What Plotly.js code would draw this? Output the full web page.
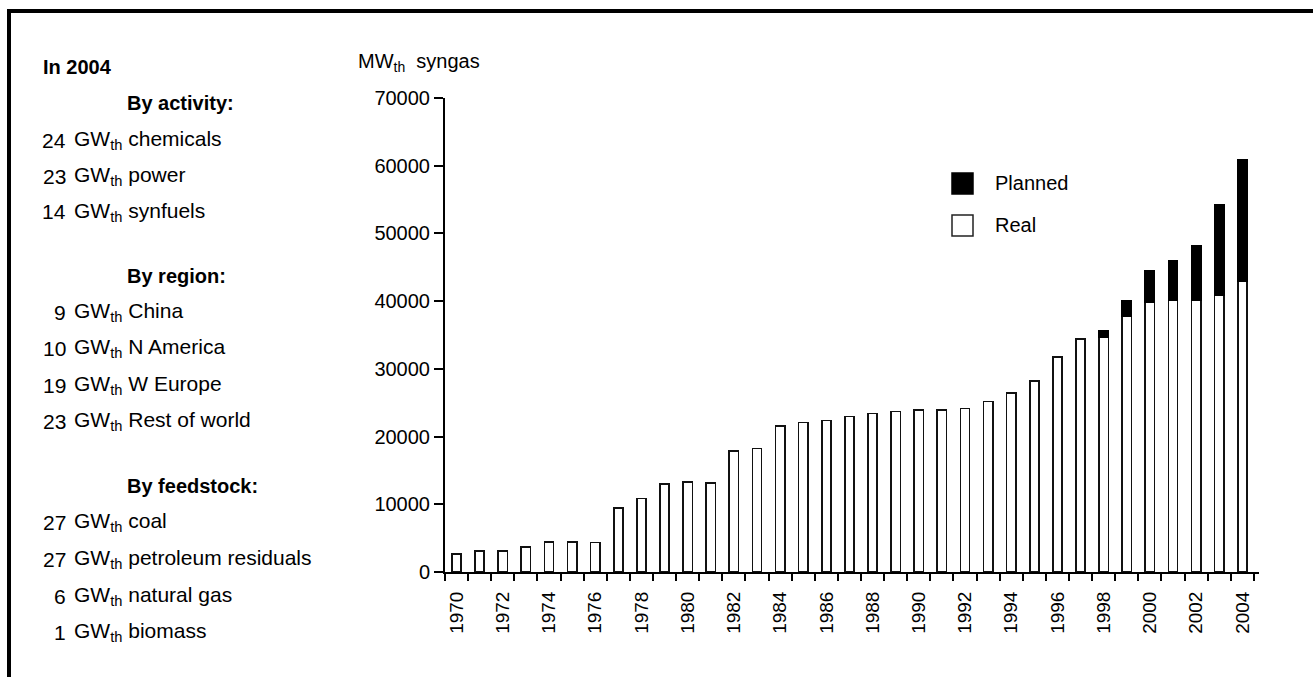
<!DOCTYPE html>
<html>
<head>
<meta charset="utf-8">
<script src="https://cdn.plot.ly/plotly-3.0.1.min.js"></script>
<style>
html,body{margin:0;padding:0;background:#fff;}
#chart{width:1313px;height:677px;}
</style>
</head>
<body>
<div id="chart"></div>
<script>
// ---- data ----
const years = [1970,1971,1972,1973,1974,1975,1976,1977,1978,1979,1980,1981,1982,1983,1984,1985,1986,1987,1988,1989,1990,1991,1992,1993,1994,1995,1996,1997,1998,1999,2000,2001,2002,2003,2004];
const realMW = [2650,3140,3140,3730,4470,4470,4370,9480,10860,13020,13310,13120,17830,18230,21520,22060,22350,22940,23380,23680,23920,23920,24120,25200,26430,28250,31730,34440,34680,37770,39840,40130,40130,40820,42930];
const plannedMW = [null,null,null,null,null,null,null,null,null,null,null,null,null,null,null,null,null,null,null,null,null,null,null,null,null,null,null,null,940,2320,4670,5810,8060,13410,17980];
const seriesNames = ["Planned","Real"];
const labelYears = [1970,1972,1974,1976,1978,1980,1982,1984,1986,1988,1990,1992,1994,1996,1998,2000,2002,2004];
const yTicks = [0,10000,20000,30000,40000,50000,60000,70000];
const yAxisLabel = "MW<sub>th</sub>  syngas";
const sideTitle = "In 2004";
const activityHead = "By activity:";
const activityVals = ["24","23","14"];
const activityNames = ["chemicals","power","synfuels"];
const regionHead = "By region:";
const regionVals = ["9","10","19","23"];
const regionNames = ["China","N America","W Europe","Rest of world"];
const feedHead = "By feedstock:";
const feedVals = ["27","27","6","1"];
const feedNames = ["coal","petroleum residuals","natural gas","biomass"];

// ---- layout geometry (pixels) ----
const W = 1313, H = 677;
const L = 445, R = 1259, T = 98, B = 572;
const px = x => (x - L) / (R - L);
const py = y => (B - y) / (B - T);

const FONT = "Liberation Sans, Arial, Helvetica, sans-serif";
const NARROW = "Liberation Sans Narrow, Arial Narrow, Liberation Sans, sans-serif";

const traces = [
  {
    type: "bar", name: seriesNames[1], x: years, y: realMW, width: 0.4,
    marker: {color: "#ffffff", line: {color: "#111111", width: 1.6}},
    showlegend: false, hoverinfo: "x+y"
  },
  {
    type: "bar", name: seriesNames[0], x: years, y: plannedMW, width: 0.4,
    marker: {color: "#000000", line: {color: "#000000", width: 1.6}},
    showlegend: false, hoverinfo: "x+y"
  }
];

const annotations = [];
function txt(text, x, y, anchor, size, bold) {
  annotations.push({
    text: bold ? "<b>" + text + "</b>" : text,
    xref: "paper", yref: "paper", x: px(x), y: py(y),
    xanchor: anchor, yanchor: "middle", showarrow: false,
    font: {family: FONT, size: size, color: "#000"}
  });
}
txt(sideTitle, 41, 67, "left", 20, true);
txt(activityHead, 125, 103, "left", 20, true);
const actY = [140, 176, 212];
activityVals.forEach((v, i) => { txt(v, 68, actY[i], "right", 21); txt("GW<sub>th</sub> " + activityNames[i], 72, actY[i], "left", 21); });
txt(regionHead, 125, 276, "left", 20, true);
const regY = [312, 348, 385, 421];
regionVals.forEach((v, i) => { txt(v, 68, regY[i], "right", 21); txt("GW<sub>th</sub> " + regionNames[i], 72, regY[i], "left", 21); });
txt(feedHead, 125, 486, "left", 20, true);
const feedY = [522, 559, 596, 632];
feedVals.forEach((v, i) => { txt(v, 68, feedY[i], "right", 21); txt("GW<sub>th</sub> " + feedNames[i], 72, feedY[i], "left", 21); });

// axis title
txt(yAxisLabel, 356, 62, "left", 20);
// legend labels
txt(seriesNames[0], 993, 183, "left", 20);
txt(seriesNames[1], 993, 225, "left", 20);

const shapes = [
  // legend boxes
  {type: "rect", xref: "paper", yref: "paper", x0: px(952), x1: px(973), y0: py(173), y1: py(194),
   fillcolor: "#000", line: {color: "#000", width: 1.5}},
  {type: "rect", xref: "paper", yref: "paper", x0: px(952), x1: px(973), y0: py(215), y1: py(236),
   fillcolor: "#fff", line: {color: "#222", width: 1.5}},
  // frame
  {type: "line", xref: "paper", yref: "paper", x0: px(7), x1: px(1320), y0: py(11), y1: py(11),
   line: {color: "#000", width: 4}},
  {type: "line", xref: "paper", yref: "paper", x0: px(9), x1: px(9), y0: py(9), y1: py(690),
   line: {color: "#000", width: 4}}
];

const layout = {
  width: W, height: H,
  margin: {l: L, r: W - R, t: T, b: H - B, pad: 0},
  paper_bgcolor: "#fff", plot_bgcolor: "#fff",
  barmode: "stack",
  showlegend: false,
  font: {family: FONT, size: 20, color: "#000"},
  xaxis: {
    type: "linear", range: [1969.5, 2004.72], fixedrange: true,
    showgrid: false, zeroline: false,
    showline: true, linecolor: "#000", linewidth: 2,
    tickmode: "array", tickvals: labelYears, ticktext: labelYears.map(String),
    ticks: "", tickangle: -90, ticklabelstandoff: 10,
    tickfont: {family: NARROW, size: 19, color: "#000"},
    minor: {ticks: "outside", ticklen: 7, tickwidth: 2, tickcolor: "#000", tick0: 1969.5, dtick: 1, showgrid: false}
  },
  yaxis: {
    range: [0, 70000], fixedrange: true,
    showgrid: false, zeroline: false,
    showline: true, linecolor: "#000", linewidth: 2,
    tickmode: "array", tickvals: yTicks, ticktext: yTicks.map(String),
    ticks: "outside", ticklen: 9, tickwidth: 2, tickcolor: "#000",
    tickfont: {family: FONT, size: 20, color: "#000"}
  },
  annotations: annotations,
  shapes: shapes
};

Plotly.newPlot("chart", traces, layout, {displayModeBar: false, staticPlot: true});
</script>
</body>
</html>
